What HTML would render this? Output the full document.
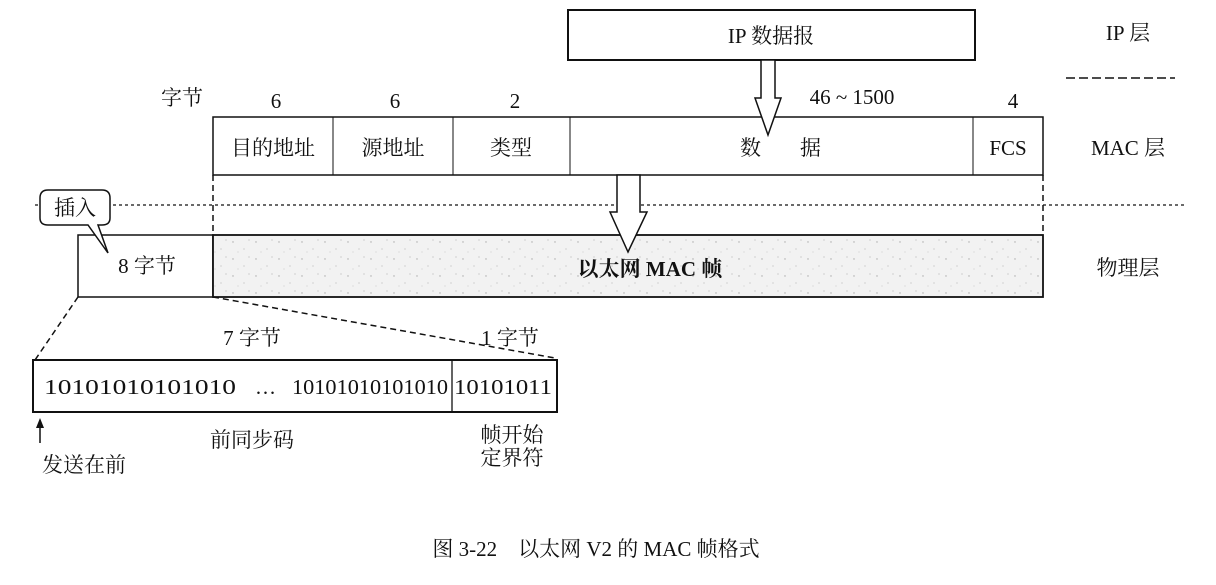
<!DOCTYPE html>
<html><head><meta charset="utf-8"><style>
html,body{margin:0;padding:0;background:#fff;}
svg{display:block;}
text{font-family:"Liberation Serif","Noto Serif CJK SC","Noto Sans CJK SC",serif;fill:#111;}
</style></head><body>
<svg width="1216" height="585" viewBox="0 0 1216 585" xmlns="http://www.w3.org/2000/svg">
<defs>
<pattern id="sp" width="23" height="17" patternUnits="userSpaceOnUse">
<rect width="23" height="17" fill="#f2f2f2"/>
<circle cx="3" cy="4" r="0.7" fill="#aaa"/><circle cx="14" cy="11" r="0.6" fill="#bbb"/><circle cx="19" cy="2" r="0.5" fill="#999"/><circle cx="8" cy="14" r="0.5" fill="#bbb"/>
</pattern>
</defs>
<g stroke="#111" fill="none">
<rect x="568" y="10" width="407" height="50" fill="#fff" stroke-width="2"/>
<rect x="213" y="117" width="830" height="58" fill="#fff" stroke-width="1.5"/>
<line x1="333" y1="117" x2="333" y2="175"/>
<line x1="453" y1="117" x2="453" y2="175"/>
<line x1="570" y1="117" x2="570" y2="175"/>
<line x1="973" y1="117" x2="973" y2="175"/>
<line x1="213" y1="175" x2="213" y2="235" stroke-dasharray="6,4" stroke-width="1.5"/>
<line x1="1043" y1="175" x2="1043" y2="235" stroke-dasharray="6,4" stroke-width="1.5"/>
<line x1="35" y1="205" x2="1185" y2="205" stroke-dasharray="3,3" stroke-width="1.3"/>
<line x1="1066" y1="78" x2="1175" y2="78" stroke-dasharray="9,4" stroke-width="1.5"/>
<rect x="78" y="235" width="135" height="62" fill="#fff" stroke-width="1.5"/>
<rect x="213" y="235" width="830" height="62" fill="url(#sp)" stroke-width="1.8"/>
<path d="M761,60 L761,98 L755,98 L768,135 L781,98 L775,98 L775,60 Z" fill="#fff" stroke-width="1.5"/>
<path d="M617,175 L617,212 L610,212 L628,252 L647,212 L640,212 L640,175 Z" fill="#fff" stroke-width="1.5"/>
<path d="M48,190 L102,190 Q110,190 110,198 L110,218 Q110,225 102,225 L98,225 L108,253 L88,225 L48,225 Q40,225 40,218 L40,198 Q40,190 48,190 Z" fill="#fff" stroke-width="1.5"/>
<line x1="78" y1="297" x2="35" y2="360" stroke-dasharray="6,4" stroke-width="1.5"/>
<line x1="213" y1="297" x2="555" y2="358" stroke-dasharray="6,4" stroke-width="1.5"/>
<rect x="33" y="360" width="524" height="52" fill="#fff" stroke-width="2"/>
<line x1="452" y1="360" x2="452" y2="412" stroke-width="1.3"/>
<line x1="40" y1="422" x2="40" y2="443" stroke-width="1.5"/>
</g>
<path d="M36,428 L40,418 L44,428 Z" fill="#111"/>
<g font-size="21">
<text x="771" y="43" text-anchor="middle">IP 数据报</text>
<text x="1128" y="40" text-anchor="middle">IP 层</text>
<text x="1128" y="155" text-anchor="middle">MAC 层</text>
<text x="1128" y="275" text-anchor="middle">物理层</text>
<text x="182" y="105" text-anchor="middle">字节</text>
<text x="276" y="108" text-anchor="middle">6</text>
<text x="395" y="108" text-anchor="middle">6</text>
<text x="515" y="108" text-anchor="middle">2</text>
<text x="852" y="104" text-anchor="middle">46 ~ 1500</text>
<text x="1013" y="108" text-anchor="middle">4</text>
<text x="273" y="155" text-anchor="middle">目的地址</text>
<text x="393" y="155" text-anchor="middle">源地址</text>
<text x="511" y="155" text-anchor="middle">类型</text>
<text x="740" y="155">数</text>
<text x="800" y="155">据</text>
<text x="1008" y="155" text-anchor="middle">FCS</text>
<text x="75" y="215" text-anchor="middle">插入</text>
<text x="147" y="273" text-anchor="middle">8 字节</text>
<text x="650" y="276" text-anchor="middle" font-weight="bold">以太网 MAC 帧</text>
<text x="252" y="345" text-anchor="middle">7 字节</text>
<text x="510" y="345" text-anchor="middle">1 字节</text>
<text x="44" y="394" textLength="192" lengthAdjust="spacingAndGlyphs">10101010101010</text>
<text x="255" y="394">…</text>
<text x="292" y="394" textLength="156" lengthAdjust="spacingAndGlyphs">10101010101010</text>
<text x="454" y="394" textLength="98" lengthAdjust="spacingAndGlyphs">10101011</text>
<text x="252" y="447" text-anchor="middle">前同步码</text>
<text x="512" y="442" text-anchor="middle">帧开始</text>
<text x="512" y="465" text-anchor="middle">定界符</text>
<text x="84" y="472" text-anchor="middle">发送在前</text>
<text x="596" y="556" text-anchor="middle">图 3-22　以太网 V2 的 MAC 帧格式</text>
</g>
</svg>
</body></html>
